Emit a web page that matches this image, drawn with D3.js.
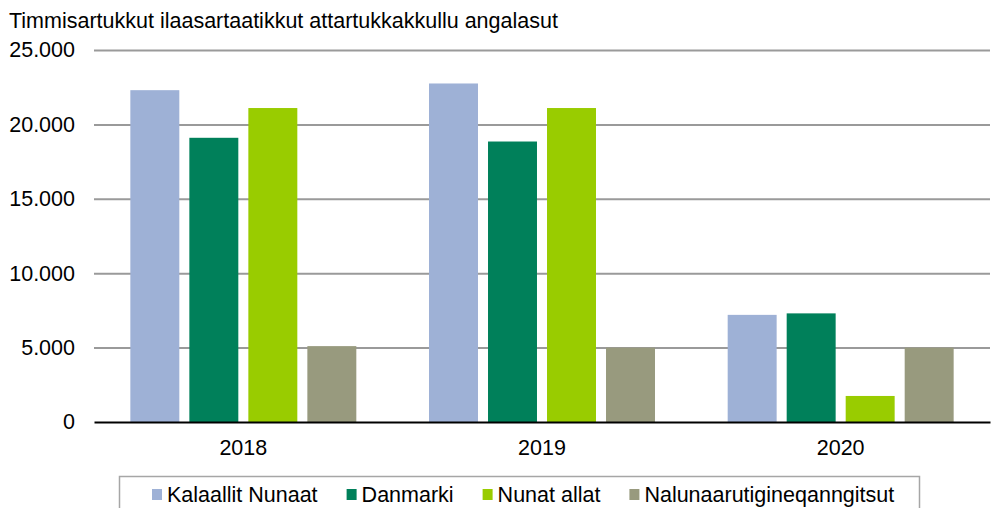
<!DOCTYPE html>
<html>
<head>
<meta charset="utf-8">
<script src="https://cdn.jsdelivr.net/npm/d3@7"></script>
<style>
  body { margin: 0; background: #fff; }
  svg { font-family: "Liberation Sans", Arial, sans-serif; }
</style>
</head>
<body>
<div id="chart"></div>
<script>
// data
let years = ["2018", "2019", "2020"];
let seriesNames = ["Kalaallit Nunaat", "Danmarki", "Nunat allat", "Nalunaarutigineqanngitsut"];
let kalaallit = [22300, 22750, 7200];
let danmarki = [19100, 18850, 7300];
let nunatAllat = [21100, 21100, 1750];
let nalunaarut = [5100, 5000, 5000];
let yTicks = [0, 5000, 10000, 15000, 20000, 25000];
let titleText = "Timmisartukkut ilaasartaatikkut attartukkakkullu angalasut";

let colors = ["#9eb1d6", "#00805a", "#99cc00", "#989a7e"];
let seriesValues = [kalaallit, danmarki, nunatAllat, nalunaarut];

let width = 993,
  height = 508,
  margin = { top: 50, left: 94, right: 3, bottom: 86 },
  fontSize = 21.5;

let svg = d3.select("#chart")
  .append("svg")
  .attr("width", width)
  .attr("height", height);

let x0 = d3.scaleBand()
  .domain(years)
  .range([margin.left, width - margin.right]);

let x1 = d3.scaleBand()
  .domain(seriesNames)
  .range([0, x0.bandwidth()])
  .paddingInner(0.17)
  .paddingOuter(0.616);

let y = d3.scaleLinear()
  .domain([0, 25000])
  .range([height - margin.bottom, margin.top]);

let fmt = d => d3.format(",")(d).replace(/,/g, ".");

// title
svg.append("text")
  .attr("x", 9)
  .attr("y", 28)
  .attr("font-size", fontSize)
  .attr("fill", "#000")
  .text(titleText);

// gridlines + y labels
let yAxis = svg.append("g")
  .attr("transform", "translate(" + margin.left + ",0)")
  .call(d3.axisLeft(y)
    .tickValues(yTicks)
    .tickSize(-(width - margin.left - margin.right))
    .tickPadding(19)
    .tickFormat(fmt));

yAxis.select(".domain").remove();
yAxis.selectAll(".tick line")
  .attr("stroke", "#9a9a9a")
  .attr("stroke-width", 2)
  .attr("display", d => d === 0 ? "none" : null);
yAxis.selectAll(".tick text")
  .attr("font-size", fontSize)
  .attr("font-family", "Liberation Sans, Arial, sans-serif")
  .attr("fill", "#000");

// bars
let groups = svg.append("g")
  .selectAll("g")
  .data(years)
  .enter()
  .append("g")
  .attr("transform", d => "translate(" + x0(d) + ",0)");

groups.selectAll("rect")
  .data((d, i) => seriesNames.map((s, j) => ({ series: s, value: seriesValues[j][i], color: colors[j] })))
  .enter()
  .append("rect")
  .attr("x", d => x1(d.series))
  .attr("width", x1.bandwidth())
  .attr("y", d => y(d.value))
  .attr("height", d => y(0) - y(d.value))
  .attr("fill", d => d.color);

// x axis
let xAxis = svg.append("g")
  .attr("transform", "translate(0," + y(0) + ")")
  .call(d3.axisBottom(x0).tickSize(0).tickPadding(18));

xAxis.select(".domain")
  .attr("stroke", "#000")
  .attr("stroke-width", 2);
xAxis.selectAll(".tick text")
  .attr("font-size", fontSize)
  .attr("font-family", "Liberation Sans, Arial, sans-serif")
  .attr("fill", "#000");

// legend
let legend = svg.append("g");

legend.append("rect")
  .attr("x", 119.5)
  .attr("y", 476.5)
  .attr("width", 800)
  .attr("height", 60)
  .attr("fill", "#fff")
  .attr("stroke", "#a6a6a6")
  .attr("stroke-width", 1.5);

let lx = 152;
seriesNames.forEach((name, i) => {
  legend.append("rect")
    .attr("x", lx)
    .attr("y", 489)
    .attr("width", 10)
    .attr("height", 11)
    .attr("fill", colors[i]);
  let t = legend.append("text")
    .attr("x", lx + 15)
    .attr("y", 502)
    .attr("font-size", fontSize)
    .attr("fill", "#000")
    .text(name);
  lx += 15 + t.node().getComputedTextLength() + 29;
});
</script>
</body>
</html>
